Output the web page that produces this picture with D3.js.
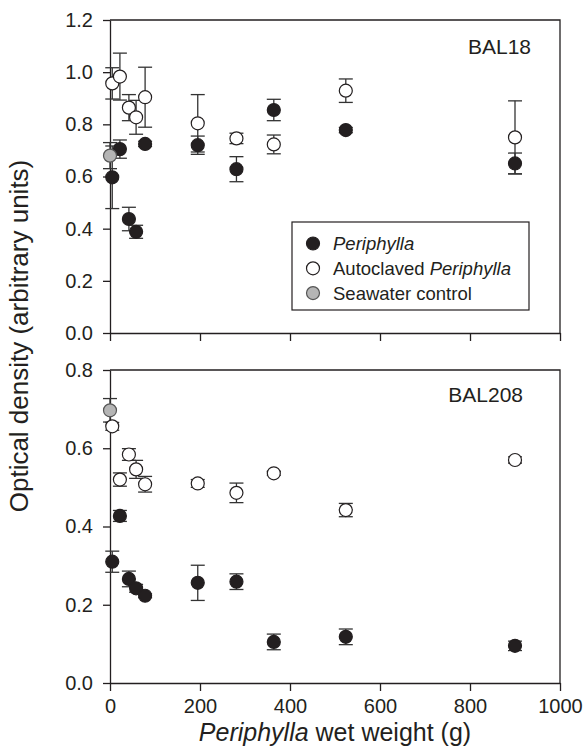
<!DOCTYPE html>
<html>
<head>
<meta charset="utf-8">
<script src="https://cdn.jsdelivr.net/npm/d3@7"></script>
<style>
  html, body { margin: 0; padding: 0; background: #fff; }
  svg { display: block; font-family: "Liberation Sans", Arial, Helvetica, sans-serif; }
</style>
</head>
<body>
<svg id="chart" width="587" height="750"></svg>
<script>
// ---- data ----
const weights = [5, 22, 42, 58, 78, 195, 281, 364, 524, 900];

const bal18Peri = [0.597, 0.705, 0.437, 0.388, 0.725, 0.720, 0.628, 0.855, 0.778, 0.650];
const bal18PeriErr = [0.12, 0.035, 0.045, 0.025, 0.01, 0.035, 0.048, 0.041, 0.01, 0.04];
const bal18Auto = [0.957, 0.983, 0.864, 0.827, 0.904, 0.804, 0.746, 0.723, 0.929, 0.75];
const bal18AutoErr = [0.06, 0.09, 0.05, 0.065, 0.115, 0.11, 0.02, 0.036, 0.045, 0.14];
const bal18Control = [0.68];
const bal18ControlErr = [0.05];

const bal208Peri = [0.31, 0.427, 0.266, 0.242, 0.223, 0.256, 0.259, 0.105, 0.118, 0.095];
const bal208PeriErr = [0.027, 0.014, 0.02, 0.01, 0.005, 0.045, 0.02, 0.02, 0.02, 0.012];
const bal208Auto = [0.656, 0.52, 0.584, 0.546, 0.508, 0.51, 0.486, 0.536, 0.442, 0.57];
const bal208AutoErr = [0.01, 0.017, 0.015, 0.023, 0.02, 0.01, 0.025, 0.005, 0.017, 0.008];
const bal208Control = [0.697];
const bal208ControlErr = [0.03];
const controlWeight = [0];

const xTicks = [0, 200, 400, 600, 800, 1000];
const yTicksTop = [0, 0.2, 0.4, 0.6, 0.8, 1.0, 1.2];
const yTicksBottom = [0, 0.2, 0.4, 0.6, 0.8];

const legendLabels = ["Periphylla", "Autoclaved Periphylla", "Seawater control"];

// ---- drawing ----
const ink = "#231f20";
const svg = d3.select("#chart");
const x = d3.scaleLinear().domain([0, 1000]).range([110, 560]);

const panels = [
  { name: "BAL18", top: 20, bottom: 333, max: 1.2, ticks: yTicksTop,
    peri: bal18Peri, periErr: bal18PeriErr, auto: bal18Auto, autoErr: bal18AutoErr,
    ctrl: bal18Control, ctrlErr: bal18ControlErr, labelX: 531, labelY: 54, showX: false },
  { name: "BAL208", top: 370, bottom: 683, max: 0.8, ticks: yTicksBottom,
    peri: bal208Peri, periErr: bal208PeriErr, auto: bal208Auto, autoErr: bal208AutoErr,
    ctrl: bal208Control, ctrlErr: bal208ControlErr, labelX: 523, labelY: 402, showX: true }
];

const styles = {
  peri: { fill: ink, stroke: ink },
  auto: { fill: "#ffffff", stroke: ink },
  ctrl: { fill: "#b5b5b5", stroke: "#555" }
};

panels.forEach(p => {
  const y = d3.scaleLinear().domain([0, p.max]).range([p.bottom, p.top]);
  const g = svg.append("g");

  // frame (top + right)
  g.append("path")
    .attr("d", `M${x(0)},${p.top}H${x(1000)}V${p.bottom}`)
    .attr("fill", "none").attr("stroke", ink).attr("stroke-width", 1.3);

  // y axis
  const ya = g.append("g").attr("transform", `translate(${x(0)},0)`)
    .call(d3.axisLeft(y).tickValues(p.ticks).tickFormat(d3.format(".1f"))
      .tickSize(7).tickSizeOuter(0).tickPadding(10));
  ya.selectAll("path, line").attr("stroke", ink).attr("stroke-width", 1.3);
  ya.selectAll("text").attr("fill", ink).style("font-size", "20px")
    .style("font-family", "'Liberation Sans', Arial, sans-serif");

  // x axis
  const xa = g.append("g").attr("transform", `translate(0,${p.bottom})`)
    .call(d3.axisBottom(x).tickValues(xTicks)
      .tickFormat(p.showX ? d3.format("d") : () => "")
      .tickSize(8).tickSizeOuter(0).tickPadding(8));
  xa.selectAll("path, line").attr("stroke", ink).attr("stroke-width", 1.3);
  xa.selectAll("text").attr("fill", ink).style("font-size", "20px")
    .style("font-family", "'Liberation Sans', Arial, sans-serif");

  // series
  const series = [
    { key: "peri", xs: weights, ys: p.peri, es: p.periErr },
    { key: "auto", xs: weights, ys: p.auto, es: p.autoErr },
    { key: "ctrl", xs: controlWeight, ys: p.ctrl, es: p.ctrlErr }
  ];
  const cap = 7;
  series.forEach(s => {
    const data = s.xs.map((w, i) => ({ w, v: s.ys[i], e: s.es[i] }));
    const eg = g.append("g").attr("stroke", "#333").attr("stroke-width", 1.3).attr("fill", "none");
    data.forEach(d => {
      const cx = x(d.w), y1 = y(d.v + d.e), y2 = y(d.v - d.e);
      eg.append("line").attr("x1", cx).attr("x2", cx).attr("y1", y1).attr("y2", y2);
      eg.append("line").attr("x1", cx - cap).attr("x2", cx + cap).attr("y1", y1).attr("y2", y1);
      eg.append("line").attr("x1", cx - cap).attr("x2", cx + cap).attr("y1", y2).attr("y2", y2);
    });
  });
  series.forEach(s => {
    const data = s.xs.map((w, i) => ({ w, v: s.ys[i] }));
    g.append("g").selectAll("circle").data(data).join("circle")
      .attr("cx", d => x(d.w)).attr("cy", d => y(d.v)).attr("r", 6.5)
      .attr("fill", styles[s.key].fill).attr("stroke", styles[s.key].stroke)
      .attr("stroke-width", 1.2);
  });

  // panel label
  g.append("text").attr("x", p.labelX).attr("y", p.labelY)
    .attr("text-anchor", "end").attr("fill", ink)
    .style("font-size", "21px").text(p.name);
});

// legend
const lg = svg.append("g");
lg.append("rect").attr("x", 292).attr("y", 222).attr("width", 237).attr("height", 88)
  .attr("fill", "#fff").attr("stroke", ink).attr("stroke-width", 1.2);
const legendKeys = ["peri", "auto", "ctrl"];
legendLabels.forEach((lab, i) => {
  const cy = 243.5 + i * 24.8;
  lg.append("circle").attr("cx", 313).attr("cy", cy).attr("r", 6.5)
    .attr("fill", styles[legendKeys[i]].fill).attr("stroke", styles[legendKeys[i]].stroke)
    .attr("stroke-width", 1.2);
  const t = lg.append("text").attr("x", 333).attr("y", cy + 6.5).attr("fill", ink)
    .style("font-size", "18.5px");
  if (lab.endsWith("Periphylla")) {
    const pre = lab.slice(0, lab.length - "Periphylla".length);
    if (pre) t.append("tspan").text(pre);
    t.append("tspan").style("font-style", "italic").text("Periphylla");
  } else {
    t.text(lab);
  }
});

// axis titles
svg.append("text").attr("transform", "translate(28,336) rotate(-90)")
  .attr("text-anchor", "middle").attr("fill", ink).style("font-size", "26px")
  .text("Optical density (arbitrary units)");
const xt = svg.append("text").attr("x", 335).attr("y", 741)
  .attr("text-anchor", "middle").attr("fill", ink).style("font-size", "25px");
xt.append("tspan").style("font-style", "italic").text("Periphylla");
xt.append("tspan").text(" wet weight (g)");
</script>
</body>
</html>
